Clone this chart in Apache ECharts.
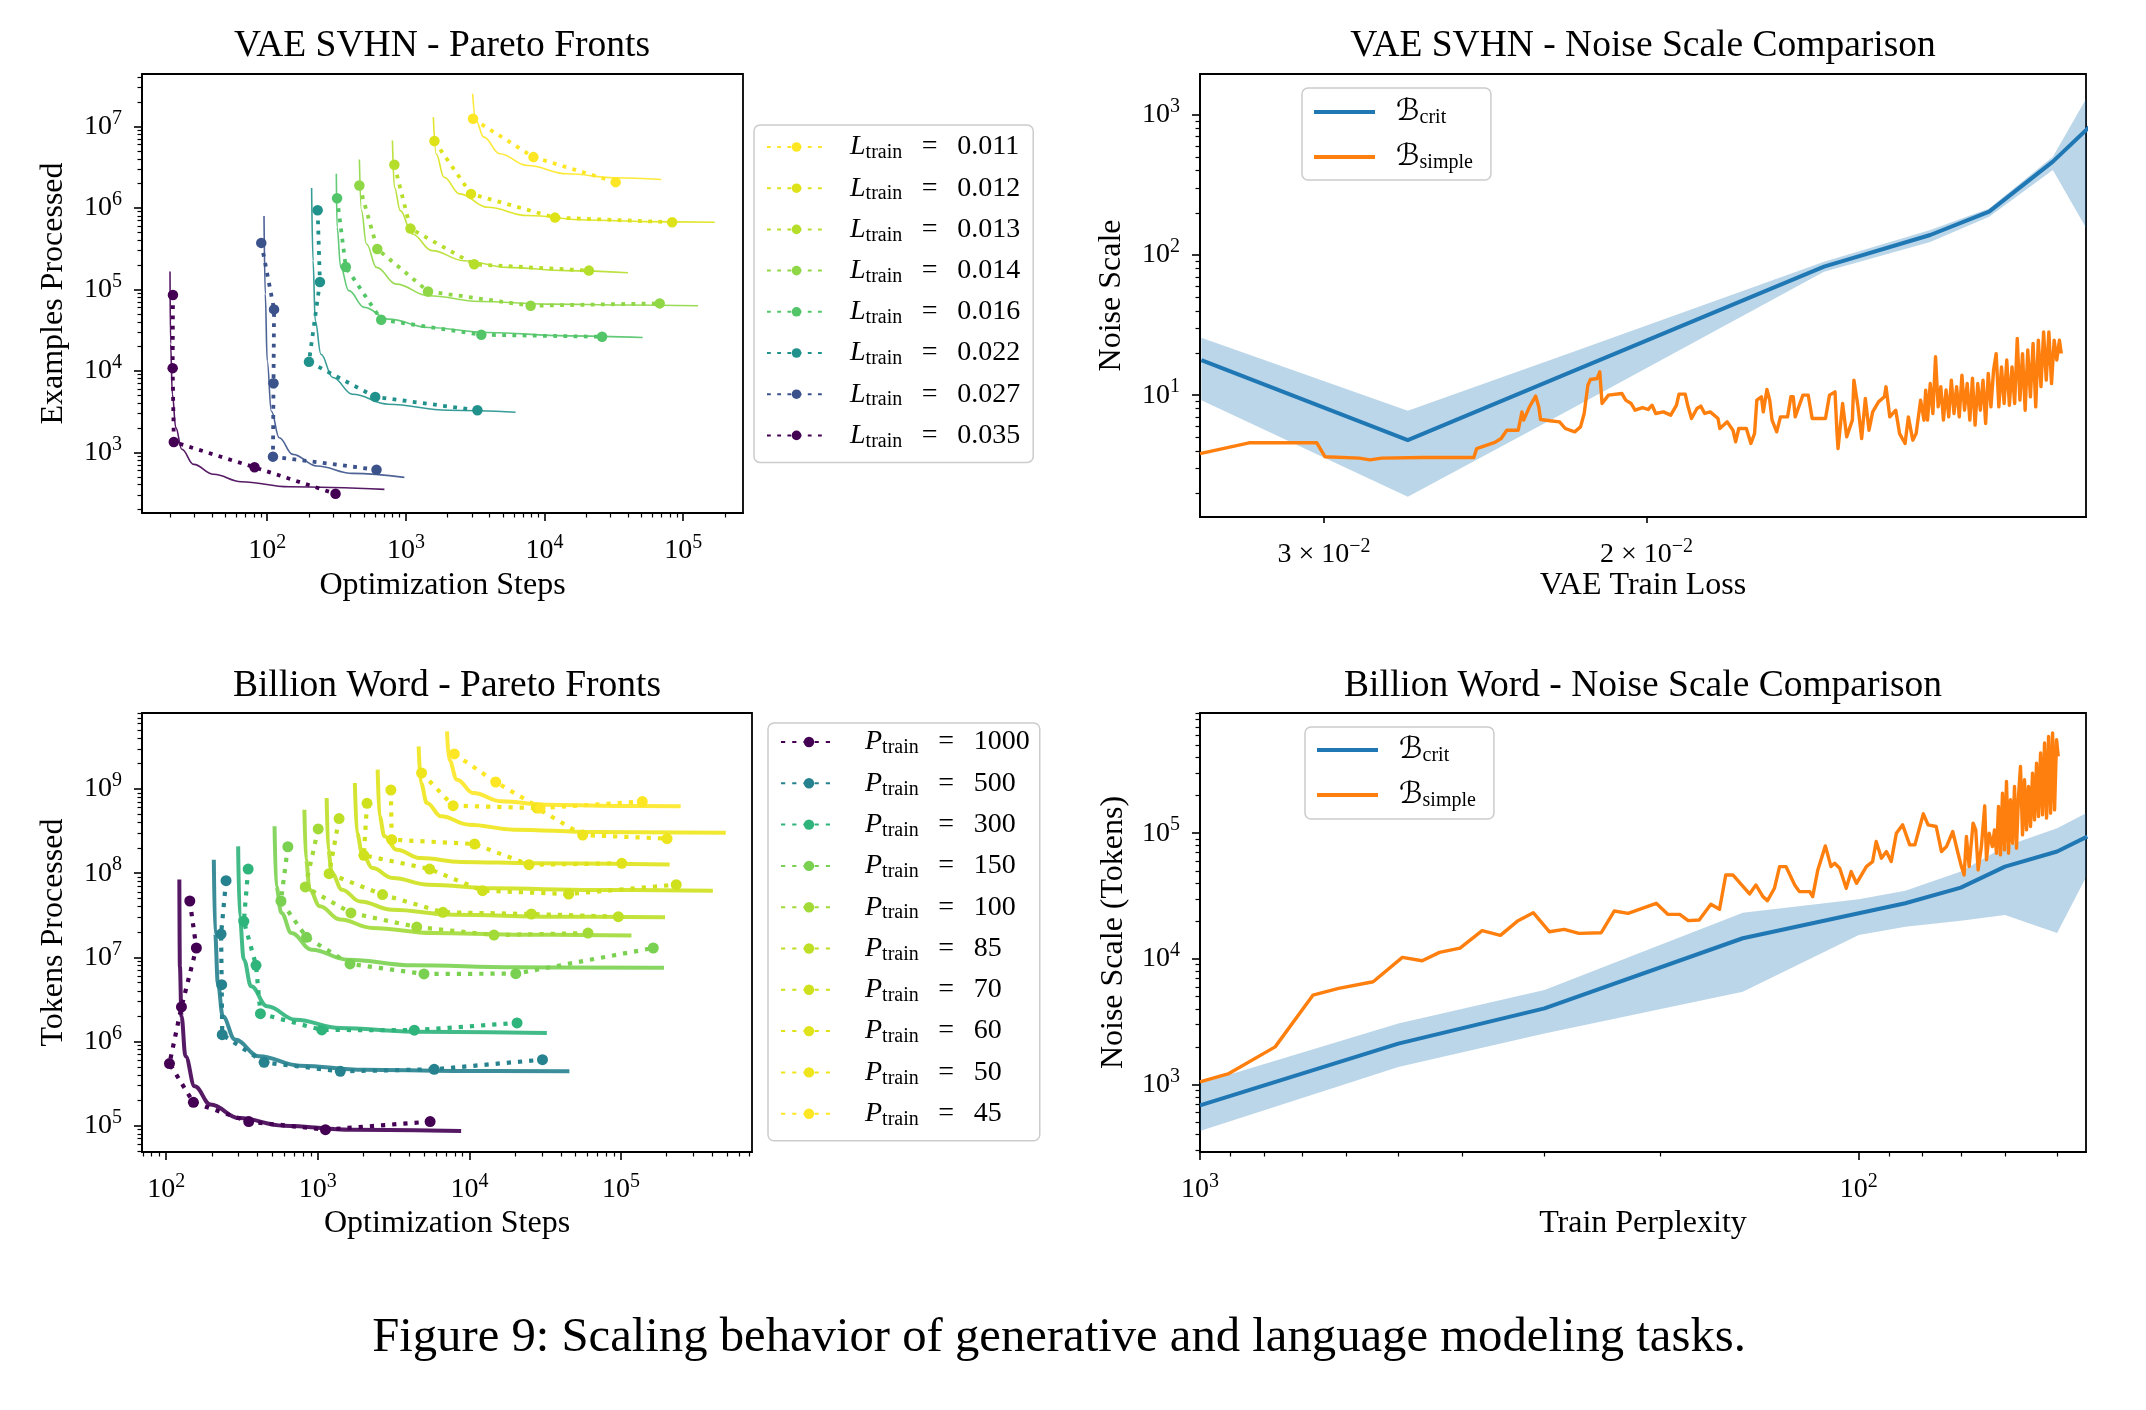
<!DOCTYPE html>
<html><head><meta charset="utf-8">
<script src="https://cdn.jsdelivr.net/npm/echarts@6/dist/echarts.min.js"></script>
<style>html,body{margin:0;padding:0;background:#fff}#c{width:2146px;height:1410px}</style>
</head><body><div id="c"></div><script>
// ---------------- DATA ----------------
// Top-left: VAE SVHN Pareto fronts  [optimization steps, examples processed]
const svhnLevels = ['0.011','0.012','0.013','0.014','0.016','0.022','0.027','0.035'];
const svhn011Pts = [[3050,1.24e7],[8320,4.2e6],[32600,2.07e6]];
const svhn011Fit = [[3030,2.52e7],[3190,1.19e7],[3650,7.4e6],[4750,4.61e6],[7530,3.31e6],[14600,2.62e6],[32100,2.34e6],[69500,2.23e6]];
const svhn012Pts = [[1607,6.61e6],[2950,1.486e6],[11900,7.6e5],[83200,6.67e5]];
const svhn012Fit = [[1578,1.3e7],[1652,4.61e6],[1885,2.38e6],[2450,1.486e6],[3890,1.018e6],[7530,8.05e5],[20300,7.11e5],[54500,6.79e5],[169000,6.67e5]];
const svhn013Pts = [[826,3.38e6],[1080,5.57e5],[3110,2.03e5],[20900,1.7e5]];
const svhn013Fit = [[800,6.73e6],[826,1.795e6],[912,9.27e5],[1110,4.79e5],[1545,2.99e5],[2620,2.25e5],[5420,1.86e5],[14500,1.7e5],[40000,1.6e5]];
const svhn014Pts = [[462,1.885e6],[622,3.13e5],[1445,9.44e4],[7940,6.3e4],[67700,6.73e4]];
const svhn014Fit = [[462,3.93e6],[478,9.27e5],[520,3.61e5],[614,1.86e5],[853,1.16e5],[1450,8.36e4],[3410,7.11e4],[10500,6.6e4],[39200,6.42e4],[128000,6.3e4]];
const svhn016Pts = [[319,1.315e6],[369,1.88e5],[664,4.24e4],[3500,2.77e4],[26000,2.62e4]];
const svhn016Fit = [[315,2.62e6],[319,5.78e5],[339,1.86e5],[387,9.64e4],[503,6.01e4],[748,4.31e4],[1450,3.41e4],[3890,2.96e4],[14500,2.69e4],[51000,2.57e4]];
const svhn022Pts = [[231,9.35e5],[240,1.23e5],[200,1.29e4],[601,4790],[3280,3280]];
const svhn022Fit = [[209,1.76e6],[214,2.25e5],[222,4.12e4],[244,1.6e4],[297,8280],[413,5160],[748,3890],[2010,3280],[6180,3100]];
const svhn027Pts = [[90.6,3.72e5],[112,5.68e4],[111,7050],[110,885],[614,612]];
const svhn027Fit = [[94.8,7.98e5],[96.8,8.77e4],[100,1.33e4],[107,3220],[122,1510],[153,945],[228,680],[413,552],[975,493]];
const svhn035Pts = [[20.9,8.51e4],[20.8,1.08e4],[21.2,1340],[81,655],[311,310]];
const svhn035Fit = [[19.9,1.66e5],[20.1,2.13e4],[20.7,5160],[21.9,2010],[24.2,1090],[29.5,711],[41,537],[65,436],[144,378],[700,351]];

// Bottom-left: Billion Word Pareto fronts [optimization steps, tokens processed]
const bwLevels = ['1000','500','300','150','100','85','70','60','50','45'];
const bw1000Pts = [[143,4.67e7],[158,1.29e7],[126,2.57e6],[105,5.46e5],[151,1.89e5],[350,1.116e5],[1122,8.96e4],[5500,1.116e5]];
const bw1000Fit = [[122,8.38e7],[123,7.82e6],[126,1.99e6],[134,6.67e5],[154,2.93e5],[196,1.78e5],[302,1.23e5],[593,1.0e5],[1680,8.96e4],[8810,8.64e4]];
const bw500Pts = [[248,8.15e7],[230,1.89e7],[232,4.73e6],[234,1.205e6],[442,5.65e5],[1406,4.42e5],[5850,4.67e5],[30300,6.08e5]];
const bw500Fit = [[206,1.445e8],[210,1.94e7],[219,4.95e6],[236,1.99e6],[284,1.052e6],[410,6.67e5],[757,5.16e5],[2020,4.62e5],[7800,4.46e5],[45600,4.42e5]];
const bw300Pts = [[347,1.12e8],[325,2.68e7],[391,8.04e6],[418,2.14e6],[1062,1.371e6],[4330,1.36e6],[20600,1.66e6]];
const bw300Fit = [[298,2.08e8],[305,3.07e7],[325,9.38e6],[363,4.52e6],[463,2.62e6],[713,1.815e6],[1400,1.446e6],[4220,1.309e6],[32400,1.262e6]];
const bw150Pts = [[634,2.06e8],[571,4.67e7],[841,1.73e7],[1630,8.34e6],[5010,6.34e6],[20200,6.4e6],[163000,1.29e7]];
const bw150Fit = [[518,3.6e8],[531,6.98e7],[575,3.37e7],[670,1.94e7],[910,1.23e7],[1580,9.38e6],[4220,8.03e6],[19600,7.6e6],[192000,7.53e6]];
const bw100Pts = [[1005,3.35e8],[826,6.85e7],[1652,3.37e7],[4490,2.29e7],[14500,1.84e7],[60500,1.94e7]];
const bw100Fit = [[815,5.68e8],[835,1.45e8],[883,6.37e7],[1030,4.04e7],[1400,2.81e7],[2290,2.23e7],[5740,1.94e7],[19600,1.86e7],[117000,1.82e7]];
const bw85Pts = [[1380,4.45e8],[1186,9.86e7],[2670,5.56e7],[6680,3.43e7],[25600,3.27e7],[95900,3.04e7]];
const bw85Fit = [[1143,7.82e8],[1170,1.9e8],[1236,1.0e8],[1442,6.37e7],[1900,4.62e7],[3100,3.68e7],[7800,3.21e7],[36100,3.04e7],[195000,2.99e7]];
const bw70Pts = [[2110,6.76e8],[2010,1.63e8],[5460,1.12e8],[12200,6.19e7],[45100,5.65e7],[231000,7.29e7]];
const bw70Fit = [[1754,1.18e9],[1810,3.0e8],[1960,1.74e8],[2290,1.15e8],[3100,8.77e7],[5400,7.29e7],[14400,6.6e7],[66700,6.31e7],[403000,6.19e7]];
const bw60Pts = [[3030,9.73e8],[3070,2.5e8],[10800,2.22e8],[24700,1.26e8],[101000,1.31e8]];
const bw60Fit = [[2480,1.7e9],[2550,4.73e8],[2750,2.74e8],[3300,1.9e8],[4780,1.51e8],[8810,1.36e8],[26600,1.31e8],[209000,1.27e8]];
const bw50Pts = [[4830,1.549e9],[7800,6.34e8],[27900,5.94e8],[55800,2.84e8],[201000,2.57e8]];
const bw50Fit = [[4620,3.21e9],[4780,1.178e9],[5240,6.82e8],[6490,4.73e8],[9960,3.77e8],[19600,3.29e8],[66700,3.08e8],[490000,3.03e8]];
const bw45Pts = [[7940,2.61e9],[14900,1.21e9],[29200,5.94e8],[138000,7.08e8]];
const bw45Fit = [[7110,4.84e9],[7330,2.23e9],[8280,1.291e9],[10600,8.96e8],[16300,7.13e8],[32000,6.51e8],[90800,6.28e8],[247000,6.22e8]];

// Top-right: VAE SVHN noise scale vs train loss
const svhnLoss = [0.035,0.027,0.022,0.016,0.014,0.013,0.012,0.011];
const svhnBcrit = [17.8,4.77,14.6,82.6,139,204,464,1370];
const svhnBcritLo = [9.2,1.88,7.94,76,124,188,404,56];
const svhnBcritHi = [25.7,7.73,20.1,89.6,151,215,504,3650];
const svhnSimple = [[0.03506,3.83],[0.03296,4.57],[0.03027,4.57],[0.02996,3.63],[0.02870,3.55],[0.02831,3.45],[0.02790,3.55],[0.02652,3.59],[0.02485,3.59],[0.02476,4.16],[0.02420,4.60],[0.02401,4.90],[0.02384,5.62],[0.02350,5.62],[0.02339,7.60],[0.02334,6.63],[0.02317,8.25],[0.02299,9.84],[0.02290,8.25],[0.02285,6.70],[0.02258,6.56],[0.02231,6.45],[0.02215,5.78],[0.02189,5.47],[0.02173,5.94],[0.02163,7.40],[0.02153,11.79],[0.02146,12.94],[0.02128,13.15],[0.02121,14.68],[0.02115,8.72],[0.02098,10.0],[0.02063,10.28],[0.02053,9.21],[0.02039,8.72],[0.02029,7.81],[0.02010,8.16],[0.01996,7.90],[0.01986,8.48],[0.01977,7.40],[0.01958,7.60],[0.01940,7.20],[0.01926,8.48],[0.01920,10.17],[0.01905,10.17],[0.01899,8.48],[0.01890,6.81],[0.01877,8.03],[0.01868,8.35],[0.01859,7.40],[0.01846,7.60],[0.01828,6.81],[0.01824,5.78],[0.01807,6.45],[0.01794,5.62],[0.01788,4.64],[0.01781,5.78],[0.01764,5.78],[0.01754,4.52],[0.01746,5.32],[0.01741,9.21],[0.01731,9.73],[0.01727,7.60],[0.01719,10.98],[0.01713,9.21],[0.01708,6.63],[0.01698,5.47],[0.01690,7.00],[0.01675,7.00],[0.01668,9.73],[0.01663,9.73],[0.01659,7.00],[0.01643,10.0],[0.01632,10.0],[0.01624,6.81],[0.01597,6.81],[0.01589,10.0],[0.01578,10.56],[0.01574,5.32],[0.01572,4.16],[0.01563,8.72],[0.01555,5.04],[0.01544,6.63],[0.01541,12.80],[0.01533,8.25],[0.01526,4.90],[0.01519,9.47],[0.01512,5.62],[0.01505,7.60],[0.01494,8.96],[0.01483,9.73],[0.01480,11.47],[0.01473,7.00],[0.01462,7.81],[0.01455,5.32],[0.01445,4.52],[0.01439,7.00],[0.01431,4.77],[0.01425,5.32],[0.01417,9.21],[0.01411,6.63],[0.01408,10.86],[0.014047,6.63],[0.014000,12.1],[0.013953,7.40],[0.013907,18.8],[0.013861,8.25],[0.013815,11.5],[0.013769,6.63],[0.013724,10.9],[0.013678,7.00],[0.013633,12.8],[0.013588,7.40],[0.013543,11.5],[0.013498,7.00],[0.013453,13.9],[0.013409,7.81],[0.013364,12.1],[0.013320,6.63],[0.013276,13.2],[0.013232,6.11],[0.013188,12.1],[0.013145,7.81],[0.013101,12.8],[0.013058,6.28],[0.013015,14.3],[0.012971,8.25],[0.012928,15.1],[0.012886,19.8],[0.012843,8.25],[0.012800,15.9],[0.012758,8.72],[0.012716,17.8],[0.012674,8.48],[0.012632,15.9],[0.012590,8.72],[0.012549,25.4],[0.012507,9.21],[0.012466,19.8],[0.012425,7.81],[0.012384,21.0],[0.012343,9.73],[0.012302,23.4],[0.012261,8.25],[0.012221,24.7],[0.012180,11.5],[0.012140,28.3],[0.012100,12.8],[0.012060,28.3],[0.012020,12.1],[0.011980,24.7],[0.011941,17.8],[0.011901,24.7],[0.011873,19.8]];

// Bottom-right: Billion Word noise scale vs train perplexity
const bwPerp = [1000,500,300,150,100,85,70,60,50,45];
const bwBcrit = [684,2120,4040,14600,23100,27700,36900,54200,71500,94000];
const bwBcritLo = [427,1380,2550,5470,15500,18000,20100,22300,16100,46600];
const bwBcritHi = [1020,3060,5650,23300,29800,34900,49500,78300,109600,146000];
const bwSimple = [[1000,1050],[904,1224],[769,1996],[674,5150],[616,5820],[546,6580],[493,10280],[460,9670],[433,11270],[403,12200],[373,16760],[350,15390],[329,20150],[312,23330],[295,16460],[280,17180],[266,15970],[246,16160],[235,24050],[224,23040],[203,27680],[195,22620],[187,22620],[181.5,20150],[174.7,20390],[167.7,27190],[162.7,24800],[159.2,46560],[155.3,46560],[146.5,32860],[143.3,38760],[139.8,31290],[137.6,29070],[134.3,36460],[131.9,54250],[129.0,54250],[125.1,38760],[123.1,34300],[118.7,34300],[117.5,31290],[115.4,51030],[112.4,79270],[110.2,54250],[108.8,57680],[106.9,52610],[104.5,36460],[102.7,49500],[100.8,39960],[97.4,54250],[95.3,59460],[94.1,85830],[92.4,63200],[90.8,71440],[89.3,59460],[87.7,100000],[85.8,116500],[83.7,80740],[82.2,80740],[79.8,142600],[78.5,116500],[76.3,113000],[74.9,71440],[73.6,78320],[72.0,103100],[70.7,69280],[69.86,54250],[69.2,46560],[68.65,94070],[68.0,54250],[67.07,120160],[66.45,106300],[65.9,51030],[65.15,78320],[64.4,165100],[64.0,61310],[63.4,100000],[62.7,78320],[62.24,106300],[61.80,69280],[61.37,163100],[60.95,67200],[60.52,208300],[60.10,73660],[59.68,258000],[59.26,69280],[58.85,184300],[58.44,83250],[58.03,235400],[57.63,75950],[57.23,196000],[56.83,339800],[56.43,97000],[56.04,266100],[55.65,106300],[55.26,235400],[54.87,113000],[54.49,300700],[54.11,127700],[53.73,361200],[53.36,135800],[52.98,434000],[52.61,140000],[52.25,521300],[51.88,131700],[51.52,589200],[51.16,144300],[50.80,626500],[50.45,153400],[50.10,554100],[49.81,408200]];

// Tick values
const tlXMajor = [1e2,1e3,1e4,1e5];
const tlXMinor = [20,30,40,50,60,70,80,90,200,300,400,500,600,700,800,900,2e3,3e3,4e3,5e3,6e3,7e3,8e3,9e3,2e4,3e4,4e4,5e4,6e4,7e4,8e4,9e4,2e5];
const tlYMajor = [1e3,1e4,1e5,1e6,1e7];
const tlYMinor = [200,300,400,500,600,700,800,900,2e3,3e3,4e3,5e3,6e3,7e3,8e3,9e3,2e4,3e4,4e4,5e4,6e4,7e4,8e4,9e4,2e5,3e5,4e5,5e5,6e5,7e5,8e5,9e5,2e6,3e6,4e6,5e6,6e6,7e6,8e6,9e6,2e7,3e7,4e7];
const trXTicks = [0.02,0.03];
const trYMajor = [10,100,1000];
const trYMinor = [2,3,4,5,6,7,8,9,20,30,40,50,60,70,80,90,200,300,400,500,600,700,800,900];
const blXMajor = [1e2,1e3,1e4,1e5];
const blXMinor = [70,80,90,200,300,400,500,600,700,800,900,2e3,3e3,4e3,5e3,6e3,7e3,8e3,9e3,2e4,3e4,4e4,5e4,6e4,7e4,8e4,9e4,2e5,3e5,4e5,5e5,6e5,7e5];
const blYMajor = [1e5,1e6,1e7,1e8,1e9];
const blYMinor = [5e4,6e4,7e4,8e4,9e4,2e5,3e5,4e5,5e5,6e5,7e5,8e5,9e5,2e6,3e6,4e6,5e6,6e6,7e6,8e6,9e6,2e7,3e7,4e7,5e7,6e7,7e7,8e7,9e7,2e8,3e8,4e8,5e8,6e8,7e8,8e8,9e8,2e9,3e9,4e9,5e9,6e9,7e9,8e9];
const brXMajor = [100,1000];
const brXMinor = [50,60,70,80,90,200,300,400,500,600,700,800,900];
const brYMajor = [1e3,1e4,1e5];
const brYMinor = [300,400,500,600,700,800,900,2e3,3e3,4e3,5e3,6e3,7e3,8e3,9e3,2e4,3e4,4e4,5e4,6e4,7e4,8e4,9e4,2e5,3e5,4e5,5e5,6e5,7e5,8e5,9e5];

// ---------------- STYLE / BUILD ----------------
const SERIF = "'Liberation Serif','Times New Roman',serif";
const BLACK = '#000';
const BLUE = '#1f77b4', ORANGE = '#ff7f0e';
const svhnColor = {'0.011':'#fde725','0.012':'#dde318','0.013':'#b5de2b','0.014':'#8fd744','0.016':'#52c569','0.022':'#21918c','0.027':'#3b528b','0.035':'#440154'};
const bwColor = {'1000':'#440154','500':'#26828e','300':'#2fb47c','150':'#7ad151','100':'#a2da37','85':'#bddf26','70':'#cfe11c','60':'#e0e31a','50':'#efe51c','45':'#fde725'};
const svhnData = {'0.011':[svhn011Pts,svhn011Fit],'0.012':[svhn012Pts,svhn012Fit],'0.013':[svhn013Pts,svhn013Fit],'0.014':[svhn014Pts,svhn014Fit],'0.016':[svhn016Pts,svhn016Fit],'0.022':[svhn022Pts,svhn022Fit],'0.027':[svhn027Pts,svhn027Fit],'0.035':[svhn035Pts,svhn035Fit]};
const bwData = {'1000':[bw1000Pts,bw1000Fit],'500':[bw500Pts,bw500Fit],'300':[bw300Pts,bw300Fit],'150':[bw150Pts,bw150Fit],'100':[bw100Pts,bw100Fit],'85':[bw85Pts,bw85Fit],'70':[bw70Pts,bw70Fit],'60':[bw60Pts,bw60Fit],'50':[bw50Pts,bw50Fit],'45':[bw45Pts,bw45Fit]};

const tickRich = {
  b: {fontFamily: SERIF, fontSize: 28, lineHeight: 36, color: BLACK},
  s: {fontFamily: SERIF, fontSize: 20, lineHeight: 20, verticalAlign: 'top', color: BLACK}
};
function pow10Fmt(v) { return '{b|10}{s|' + Math.round(Math.log10(v)) + '}'; }
function lossFmt(v) { return '{b|' + Math.round(v * 100) + ' \u00d7 10}{s|\u22122}'; }

function axisPair(o) {
  const base = {type: 'log', logBase: 10, gridIndex: o.grid, min: o.min, max: o.max, inverse: !!o.inverse,
    position: o.isX ? 'bottom' : 'left', splitLine: {show: false}, minorTick: {show: false},
    minorSplitLine: {show: false}, axisPointer: {show: false}, silent: true};
  const major = Object.assign({}, base, {
    axisLine: {show: true, onZero: false, lineStyle: {color: BLACK, width: 1.8}},
    axisTick: {show: true, customValues: o.majors, length: o.majLen || 8, lineStyle: {color: BLACK, width: 1.6}},
    axisLabel: {show: true, customValues: o.majors, formatter: o.fmt, margin: 20, rich: tickRich, color: BLACK},
    name: o.name, nameLocation: 'middle', nameGap: o.nameGap, nameMoveOverlap: false,
    nameTextStyle: {fontFamily: SERIF, fontSize: 32, color: BLACK}
  });
  const minor = Object.assign({}, base, {
    axisLine: {show: false},
    axisTick: {show: true, customValues: o.minors && o.minors.length ? o.minors : [o.max * 10], length: 4.5, lineStyle: {color: BLACK, width: 1.2}},
    axisLabel: {show: false}
  });
  return [major, minor];
}

const xAxes = [].concat(
  axisPair({isX: true, grid: 0, min: 12.5, max: 2.7e5, majors: tlXMajor, minors: tlXMinor, fmt: pow10Fmt, name: 'Optimization Steps', nameGap: 57}),
  axisPair({isX: true, grid: 1, min: 0.01151, max: 0.03506, inverse: true, majors: trXTicks, minors: [], majLen: 6, fmt: lossFmt, name: 'VAE Train Loss', nameGap: 53}),
  axisPair({isX: true, grid: 2, min: 69.2, max: 7.3e5, majors: blXMajor, minors: blXMinor, fmt: pow10Fmt, name: 'Optimization Steps', nameGap: 56}),
  axisPair({isX: true, grid: 3, min: 45.2, max: 1000, inverse: true, majors: brXMajor, minors: brXMinor, fmt: pow10Fmt, name: 'Train Perplexity', nameGap: 56})
);
const yAxes = [].concat(
  axisPair({isX: false, grid: 0, min: 180, max: 4.4e7, majors: tlYMajor, minors: tlYMinor, fmt: pow10Fmt, name: 'Examples Processed', nameGap: 72}),
  axisPair({isX: false, grid: 1, min: 1.35, max: 1960, majors: trYMajor, minors: trYMinor, fmt: pow10Fmt, name: 'Noise Scale', nameGap: 72}),
  axisPair({isX: false, grid: 2, min: 48600, max: 8.0e9, majors: blYMajor, minors: blYMinor, fmt: pow10Fmt, name: 'Tokens Processed', nameGap: 72}),
  axisPair({isX: false, grid: 3, min: 291, max: 904000, majors: brYMajor, minors: brYMinor, fmt: pow10Fmt, name: 'Noise Scale (Tokens)', nameGap: 70})
);

const series = [];
function addPareto(prefix, key, color, pts, fit, ax, dotW, dash, symSize, fitW) {
  series.push({name: prefix + key + '_fit', type: 'line', xAxisIndex: ax, yAxisIndex: ax, data: fit,
    symbol: 'none', smooth: 0.4, smoothMonotone: 'x', lineStyle: {color: color, width: fitW, opacity: 0.9}, z: 3, silent: true});
  series.push({name: prefix + key, type: 'line', xAxisIndex: ax, yAxisIndex: ax, data: pts,
    symbol: 'circle', symbolSize: symSize, showSymbol: true, itemStyle: {color: color},
    lineStyle: {color: color, width: dotW, type: dash}, z: 4, silent: true});
}
svhnLevels.slice().reverse().forEach(k => addPareto('svhn', k, svhnColor[k], svhnData[k][0], svhnData[k][1], 0, 3.8, [3.8, 6.4], 10.5, 1.6));
bwLevels.forEach(k => addPareto('bw', k, bwColor[k], bwData[k][0], bwData[k][1], 4, 4.2, [4.2, 7], 11, 4));

function addNoise(xs, crit, lo, hi, simple, ax) {
  // shaded band between lo and hi, drawn as one polygon through the axis scales
  series.push({type: 'custom', xAxisIndex: ax, yAxisIndex: ax, clip: true, silent: true, z: 1,
    data: xs.map((x, i) => [x, lo[i], hi[i]]), encode: {x: 0, y: [1, 2]},
    renderItem: function (params, api) {
      if (params.dataIndex !== 0) return null;
      const pts = [];
      for (let i = 0; i < xs.length; i++) pts.push(api.coord([xs[i], hi[i]]));
      for (let i = xs.length - 1; i >= 0; i--) pts.push(api.coord([xs[i], lo[i]]));
      const cs = params.coordSys;
      return {type: 'polygon', shape: {points: pts}, style: {fill: 'rgba(31,119,180,0.3)'},
        clipPath: {type: 'rect', shape: {x: cs.x, y: cs.y, width: cs.width, height: cs.height}}};
    }});
  series.push({name: 'crit', type: 'line', xAxisIndex: ax, yAxisIndex: ax,
    data: xs.map((x, i) => [x, crit[i]]), symbol: 'none', itemStyle: {color: BLUE},
    lineStyle: {color: BLUE, width: 4}, z: 3, silent: true});
  series.push({name: 'simple', type: 'line', xAxisIndex: ax, yAxisIndex: ax,
    data: simple, symbol: 'none', itemStyle: {color: ORANGE},
    lineStyle: {color: ORANGE, width: 3.4, join: 'round'}, z: 4, silent: true});
}
addNoise(svhnLoss, svhnBcrit, svhnBcritLo, svhnBcritHi, svhnSimple, 2);
addNoise(bwPerp, bwBcrit, bwBcritLo, bwBcritHi, bwSimple, 6);

const legRich = {
  i: {fontFamily: SERIF, fontStyle: 'italic', fontSize: 28, lineHeight: 32, color: BLACK},
  c: {fontFamily: "'DejaVu Serif','DejaVu Sans',serif", fontSize: 30, lineHeight: 32, color: BLACK},
  s: {fontFamily: SERIF, fontSize: 20, lineHeight: 17, verticalAlign: 'bottom', color: BLACK},
  t: {fontFamily: SERIF, fontSize: 28, lineHeight: 32, color: BLACK},
  p18: {width: 19, lineHeight: 32},
  p22: {width: 23, lineHeight: 32},
  p17: {width: 16, lineHeight: 32}
};
const legBox = {orient: 'vertical', selectedMode: false, borderColor: '#cccccc', borderWidth: 1.5, borderRadius: 6,
  backgroundColor: 'rgba(255,255,255,0.85)', textStyle: {rich: legRich, color: BLACK}};
const EQ = '\u2002\u2009=\u2002\u2009';
const legends = [
  Object.assign({}, legBox, {left: 754, top: 125, itemWidth: 59, itemHeight: 12, itemGap: 11.2, padding: [8, 13, 11, 12],
    data: svhnLevels.map(k => 'svhn' + k),
    formatter: n => '{p18|}{i|L}{s|train}{t|' + EQ + n.slice(4) + '}'}),
  Object.assign({}, legBox, {left: 768, top: 723, itemWidth: 56, itemHeight: 13, itemGap: 11.3, padding: [5, 10, 11, 12],
    data: bwLevels.map(k => 'bw' + k),
    formatter: n => '{p22|}{i|P}{s|train}{t|' + EQ + n.slice(2) + '}'}),
  Object.assign({}, legBox, {left: 1302, top: 88, icon: 'rect', itemWidth: 61, itemHeight: 4, itemGap: 14, padding: [9, 18, 7, 12],
    data: ['crit', 'simple'], formatter: n => '{p17|}{c|\u212C}{s|' + n + '}'}),
  Object.assign({}, legBox, {left: 1305, top: 727, icon: 'rect', itemWidth: 61, itemHeight: 4, itemGap: 14, padding: [8, 18, 8, 12],
    data: ['crit', 'simple'], formatter: n => '{p17|}{c|\u212C}{s|' + n + '}'})
];

function txt(x, y, s, size, fam) {
  return {type: 'text', x: x, y: y, silent: true,
    style: {text: s, fontFamily: fam || SERIF, fontSize: size, fill: BLACK, align: 'center', verticalAlign: 'middle'}};
}
const gridBase = {show: true, borderColor: BLACK, borderWidth: 1.8, backgroundColor: 'transparent', containLabel: false, outerBoundsMode: 'none'};

const option = {
  animation: false,
  backgroundColor: '#ffffff',
  textStyle: {fontFamily: SERIF, color: BLACK},
  grid: [
    Object.assign({}, gridBase, {left: 142, top: 74, width: 601, height: 439}),
    Object.assign({}, gridBase, {left: 1200, top: 74, width: 886, height: 443}),
    Object.assign({}, gridBase, {left: 142, top: 713, width: 610, height: 439}),
    Object.assign({}, gridBase, {left: 1200, top: 713, width: 886, height: 439})
  ],
  xAxis: xAxes,
  yAxis: yAxes,
  legend: legends,
  series: series,
  graphic: {elements: [
    txt(442, 46, 'VAE SVHN - Pareto Fronts', 37.5),
    txt(1643, 46, 'VAE SVHN - Noise Scale Comparison', 37.5),
    txt(447, 686, 'Billion Word - Pareto Fronts', 37.5),
    txt(1643, 686, 'Billion Word - Noise Scale Comparison', 37.5),
    txt(1059, 1338, 'Figure 9: Scaling behavior of generative and language modeling tasks.', 48.7)
  ]}
};
const chart = echarts.init(document.getElementById('c'), null, {renderer: 'canvas'});
chart.setOption(option);
</script></body></html>
